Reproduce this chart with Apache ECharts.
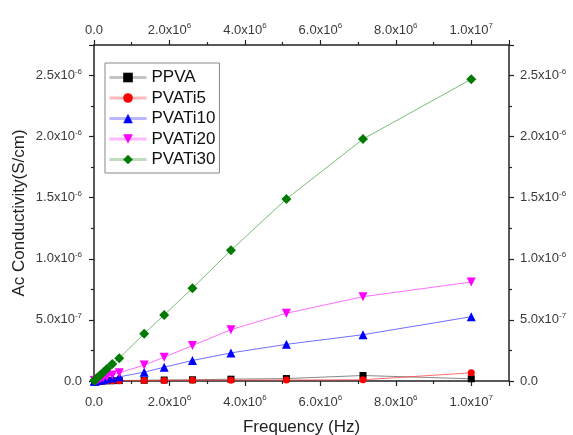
<!DOCTYPE html>
<html>
<head>
<meta charset="utf-8">
<script src="https://cdn.jsdelivr.net/npm/echarts@6/dist/echarts.min.js"></script>
<style>
html,body{margin:0;padding:0;background:#fff;}
#c{width:573px;height:435px;}
</style>
</head>
<body>
<div id="c"></div>
<script>
// Frequency (Hz)
var freq = [1.2e4, 1.7e4, 2.3e4, 3.3e4, 4.6e4, 6.4e4, 9.0e4, 1.26e5, 1.77e5, 2.48e5, 3.47e5, 4.85e5, 6.7e5, 1.33e6, 1.86e6, 2.61e6, 3.63e6, 5.1e6, 7.13e6, 1.0e7];
var seriesNames = ['PPVA', 'PVATi5', 'PVATi10', 'PVATi20', 'PVATi30'];
// Ac conductivity (S/cm)
var ppva    = [1e-10, 1e-10, 2e-10, 2e-10, 3e-10, 4e-10, 5e-10, 7e-10, 1e-9, 1.3e-9, 1.8e-9, 2.5e-9, 3.5e-9, 6e-9, 8e-9, 1.0e-8, 1.5e-8, 2.0e-8, 4.5e-8, 1.8e-8];
var pvati5  = [5e-11, 7e-11, 1e-10, 1.4e-10, 2e-10, 2.7e-10, 3.8e-10, 5e-10, 7e-10, 1e-9, 1.4e-9, 2e-9, 2.7e-9, 4e-9, 5e-9, 6e-9, 7e-9, 8e-9, 1e-8, 6.7e-8];
var pvati10 = [6e-10, 9e-10, 1.3e-9, 1.8e-9, 2.5e-9, 3.4e-9, 4.7e-9, 6.5e-9, 9e-9, 1.3e-8, 1.8e-8, 2.5e-8, 3.4e-8, 7.2e-8, 1.13e-7, 1.68e-7, 2.3e-7, 3.0e-7, 3.79e-7, 5.26e-7];
var pvati20 = [1.4e-9, 2e-9, 2.7e-9, 3.7e-9, 5e-9, 7e-9, 1e-8, 1.4e-8, 2e-8, 2.7e-8, 3.7e-8, 5e-8, 6.7e-8, 1.3e-7, 1.95e-7, 2.9e-7, 4.2e-7, 5.55e-7, 6.9e-7, 8.1e-7];
var pvati30 = [3.6e-9, 5e-9, 7e-9, 1.0e-8, 1.4e-8, 1.9e-8, 2.7e-8, 3.7e-8, 5.2e-8, 7.2e-8, 1.0e-7, 1.4e-7, 1.87e-7, 3.87e-7, 5.4e-7, 7.6e-7, 1.07e-6, 1.49e-6, 1.98e-6, 2.47e-6];

var xTickStep = 2e6, yTickStep = 5e-7;

function sci(v, step) {
  if (Math.abs(v) < step * 1e-6) return '{b|0.0}';
  var r = v / step;
  if (Math.abs(r - Math.round(r)) > 1e-6) return '';
  var e = Math.floor(Math.log10(Math.abs(v)) + 1e-9);
  var m = v / Math.pow(10, e);
  return '{b|' + m.toFixed(1) + 'x10}{s|' + e + '}';
}
var FONT = 'Liberation Sans, Arial, sans-serif';
var rich = {
  b: {fontSize: 13, fontFamily: FONT, color: '#3a3a3a', lineHeight: 16},
  s: {fontSize: 8, fontFamily: FONT, color: '#3a3a3a', lineHeight: 16, verticalAlign: 'top', padding: [0, 0, 7, 0]}
};
var axisLine = {show: true, onZero: false, lineStyle: {color: '#222', width: 1.5}};
function xAxis(pos, showName, margin) {
  return {
    type: 'value', position: pos, min: 0, max: 1.1e7, interval: xTickStep,
    name: showName ? 'Frequency (Hz)' : '', nameLocation: 'middle', nameGap: 38,
    nameTextStyle: {fontSize: 17, fontFamily: FONT, color: '#222'},
    axisLine: axisLine,
    axisTick: {show: true, inside: false, length: 5, lineStyle: {color: '#222', width: 1.2}},
    minorTick: {show: true, splitNumber: 2, length: 3, lineStyle: {color: '#222', width: 1.2}},
    splitLine: {show: false},
    axisLabel: {margin: margin, rich: rich, formatter: function (v) { return sci(v, xTickStep); }}
  };
}
function yAxis(pos, showName, margin) {
  return {
    type: 'value', position: pos, min: 0, max: 2.75e-6, interval: yTickStep,
    name: showName ? 'Ac Conductivity(S/cm)' : '', nameLocation: 'middle', nameGap: 66,
    nameMoveOverlap: false,
    nameTextStyle: {fontSize: 17, fontFamily: FONT, color: '#222'},
    axisLine: axisLine,
    axisTick: {show: true, inside: false, length: 5, lineStyle: {color: '#222', width: 1.2}},
    minorTick: {show: true, splitNumber: 2, length: 3, lineStyle: {color: '#222', width: 1.2}},
    splitLine: {show: false},
    axisLabel: {margin: margin, rich: rich, formatter: function (v) { return sci(v, yTickStep); }}
  };
}
function pairs(ys) { return freq.map(function (f, i) { return [f, ys[i]]; }); }
var styles = [
  {data: ppva, color: '#000000', line: '#555555', symbol: 'rect', size: 7, rot: 0},
  {data: pvati5, color: '#ff0000', line: '#ff3030', symbol: 'circle', size: 7, rot: 0},
  {data: pvati10, color: '#0000ff', line: '#3030ff', symbol: 'triangle', size: 9, rot: 0},
  {data: pvati20, color: '#ff00ff', line: '#ff30ff', symbol: 'triangle', size: 9, rot: 180},
  {data: pvati30, color: '#007a00', line: '#40a040', symbol: 'diamond', size: 10, rot: 0}
];
var series = styles.map(function (s, i) {
  return {
    name: seriesNames[i], type: 'line', xAxisIndex: 0, yAxisIndex: 0,
    data: pairs(s.data), symbol: s.symbol, symbolSize: s.size, symbolRotate: s.rot,
    showAllSymbol: true,
    itemStyle: {color: s.color},
    lineStyle: {color: s.line, width: 1, opacity: 0.7},
    z: 2 + i
  };
});
var chart = echarts.init(document.getElementById('c'), null, {renderer: 'canvas'});
chart.setOption({
  animation: false,
  backgroundColor: '#fff',
  grid: {left: 94, right: 64, top: 45, bottom: 54, containLabel: false, outerBoundsMode: 'none'},
  xAxis: [xAxis('bottom', true, 13), xAxis('top', false, 7)],
  yAxis: [yAxis('left', true, 12), yAxis('right', false, 11)],
  legend: {
    show: true, orient: 'vertical', left: 105, top: 63,
    padding: [6, 4, 5, 3], itemWidth: 37, itemHeight: 12, itemGap: 3.5,
    borderColor: '#888', borderWidth: 1, backgroundColor: '#fff',
    lineStyle: {width: 3, opacity: 0.35},
    textStyle: {fontSize: 17, fontFamily: FONT, color: '#111', lineHeight: 17},
    data: seriesNames
  },
  series: series
});
</script>
</body>
</html>
